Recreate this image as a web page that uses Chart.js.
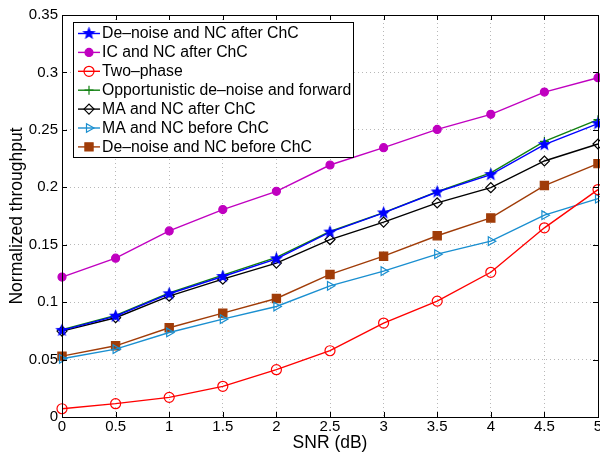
<!DOCTYPE html>
<html>
<head>
<meta charset="utf-8">
<script src="https://cdn.jsdelivr.net/npm/chart.js@4.4.0/dist/chart.umd.min.js"></script>
<style>
  html, body { margin: 0; padding: 0; background: #fff; }
  #wrap { width: 600px; height: 454px; }
</style>
</head>
<body>
<div id="wrap"><canvas id="chart" width="600" height="454"></canvas></div>
<script>
// SNR (dB) sur l'axe x
const snr = [0, 0.5, 1, 1.5, 2, 2.5, 3, 3.5, 4, 4.5, 5];
const xTicks = [0, 0.5, 1, 1.5, 2, 2.5, 3, 3.5, 4, 4.5, 5];
const yTicks = [0, 0.05, 0.1, 0.15, 0.2, 0.25, 0.3, 0.35];

const denoiseAfter  = [0.0754, 0.0878, 0.1073, 0.1223, 0.1377, 0.1610, 0.1777, 0.1959, 0.2110, 0.2371, 0.2554];
const icAfter       = [0.1218, 0.1383, 0.1620, 0.1806, 0.1965, 0.2194, 0.2345, 0.2504, 0.2635, 0.2829, 0.2954];
const twoPhase      = [0.0072, 0.0116, 0.0171, 0.0267, 0.0412, 0.0577, 0.0818, 0.1009, 0.1260, 0.1647, 0.1980];
const opportunistic = [0.0760, 0.0885, 0.1080, 0.1235, 0.1390, 0.1615, 0.1780, 0.1963, 0.2125, 0.2400, 0.2589];
const maAfter       = [0.0748, 0.0864, 0.1052, 0.1200, 0.1340, 0.1545, 0.1697, 0.1864, 0.1997, 0.2229, 0.2377];
const maBefore      = [0.0507, 0.0591, 0.0736, 0.0852, 0.0962, 0.1142, 0.1270, 0.1418, 0.1531, 0.1757, 0.1901];
const denoiseBefore = [0.0530, 0.0620, 0.0777, 0.0904, 0.1032, 0.1241, 0.1400, 0.1578, 0.1733, 0.2015, 0.2206];

const FONT = '"Liberation Sans", Arial, Helvetica, sans-serif';

// étoile pleine (pentagramme façon MATLAB)
function makeStar(color) {
  const c = document.createElement('canvas');
  c.width = 15; c.height = 15;
  const g = c.getContext('2d');
  g.fillStyle = color;
  g.beginPath();
  for (let i = 0; i < 10; i++) {
    const r = i % 2 === 0 ? 7 : 3;
    const a = -Math.PI / 2 + i * Math.PI / 5;
    const px = 7.5 + r * Math.cos(a), py = 7.5 + r * Math.sin(a);
    i === 0 ? g.moveTo(px, py) : g.lineTo(px, py);
  }
  g.closePath();
  g.fill();
  return c;
}

const pts = vals => vals.map((v, i) => ({ x: snr[i], y: v }));

const series = [
  { label: 'De–noise and NC after ChC', data: pts(denoiseAfter), borderColor: '#0000ff', pointBackgroundColor: '#0000ff', pointStyle: makeStar('#0000ff'), pointRadius: 6 },
  { label: 'IC and NC after ChC', data: pts(icAfter), borderColor: '#c000c0', pointBackgroundColor: '#c000c0', pointStyle: 'circle', pointRadius: 4 },
  { label: 'Two–phase', data: pts(twoPhase), borderColor: '#ff0000', pointBackgroundColor: 'rgba(0,0,0,0)', pointStyle: 'circle', pointRadius: 5 },
  { label: 'Opportunistic de–noise and forward', data: pts(opportunistic), borderColor: '#108010', pointBackgroundColor: '#108010', pointStyle: 'cross', pointRadius: 4.5 },
  { label: 'MA and NC after ChC', data: pts(maAfter), borderColor: '#000000', pointBackgroundColor: 'rgba(0,0,0,0)', pointStyle: 'rectRot', pointRadius: 5 },
  { label: 'MA and NC before ChC', data: pts(maBefore), borderColor: '#1a8fd0', pointBackgroundColor: 'rgba(0,0,0,0)', pointStyle: 'triangle', pointRotation: 90, pointRadius: 5 },
  { label: 'De–noise and NC before ChC', data: pts(denoiseBefore), borderColor: '#a03c08', pointBackgroundColor: '#a03c08', pointStyle: 'rect', pointRadius: 5.8 }
].map(s => Object.assign({
  borderWidth: 1.4,
  pointBorderColor: s.borderColor,
  pointBorderWidth: 1.2,
  pointHoverRadius: s.pointRadius,
  fill: false,
  tension: 0,
  clip: 8
}, s));

// ── Cadre + graduations intérieures ──
const frame = {
  id: 'frame',
  afterDatasetsDraw(chart) {
    const { ctx, chartArea: a, scales } = chart;
    ctx.save();
    ctx.strokeStyle = '#000';
    ctx.lineWidth = 1;
    ctx.beginPath();
    xTicks.forEach(v => {
      const x = Math.round(scales.x.getPixelForValue(v)) + 0.5;
      ctx.moveTo(x, a.bottom); ctx.lineTo(x, a.bottom - 5);
      ctx.moveTo(x, a.top); ctx.lineTo(x, a.top + 5);
    });
    yTicks.forEach(v => {
      const y = Math.round(scales.y.getPixelForValue(v)) + 0.5;
      ctx.moveTo(a.left, y); ctx.lineTo(a.left + 5, y);
      ctx.moveTo(a.right, y); ctx.lineTo(a.right - 5, y);
    });
    ctx.stroke();
    ctx.strokeRect(Math.round(a.left) + 0.5, Math.round(a.top) + 0.5, Math.round(a.right - a.left), Math.round(a.bottom - a.top));
    ctx.restore();
  }
};

// ── Légende dans la zone du graphique ──
const boxLegend = {
  id: 'boxLegend',
  afterDraw(chart) {
    const ctx = chart.ctx;
    const x0 = 73, y0 = 22, w = 280, h = 135;
    ctx.save();
    ctx.fillStyle = '#fff';
    ctx.fillRect(x0, y0, w, h);
    ctx.strokeStyle = '#000';
    ctx.lineWidth = 1;
    ctx.strokeRect(x0 + 0.5, y0 + 0.5, w, h);
    ctx.font = '15.8px ' + FONT;
    ctx.textBaseline = 'middle';
    chart.data.datasets.forEach((ds, i) => {
      const y = y0 + 11.5 + i * 18.9;
      ctx.strokeStyle = ds.borderColor;
      ctx.lineWidth = 1.4;
      ctx.beginPath(); ctx.moveTo(x0 + 5, y); ctx.lineTo(x0 + 27, y); ctx.stroke();
      ctx.fillStyle = ds.pointBackgroundColor;
      ctx.lineWidth = 1.2;
      Chart.helpers.drawPoint(ctx, { pointStyle: ds.pointStyle, radius: ds.pointRadius, rotation: ds.pointRotation || 0, borderWidth: 1.2 }, x0 + 16, y);
      ctx.fillStyle = '#000';
      ctx.fillText(ds.label, x0 + 29, y + 0.5);
    });
    ctx.restore();
  }
};

new Chart(document.getElementById('chart'), {
  type: 'line',
  data: { datasets: series },
  plugins: [frame, boxLegend],
  options: {
    responsive: false,
    animation: false,
    layout: { autoPadding: false, padding: { top: 15, right: 2, left: 0, bottom: 0 } },
    plugins: { legend: { display: false }, tooltip: { enabled: false } },
    scales: {
      x: {
        type: 'linear', min: 0, max: 5,
        afterBuildTicks: s => { s.ticks = xTicks.map(v => ({ value: v })); },
        afterFit: s => { s.height = 37; s.paddingLeft = 0; s.paddingRight = 0; },
        ticks: { color: '#000', font: { family: FONT, size: 15 }, padding: 1, maxRotation: 0, autoSkip: false, callback: v => String(v) },
        grid: { color: '#b8b8b8', lineWidth: 1, drawTicks: false },
        border: { display: false, dash: [1, 3] },
        title: { display: true, text: 'SNR (dB)', color: '#000', font: { family: FONT, size: 17.5 }, padding: { top: 0, bottom: 0 } }
      },
      y: {
        type: 'linear', min: 0, max: 0.35,
        afterBuildTicks: s => { s.ticks = yTicks.map(v => ({ value: v })); },
        afterFit: s => { s.width = 62; s.paddingTop = 0; s.paddingBottom = 0; },
        ticks: { color: '#000', font: { family: FONT, size: 15 }, padding: 4, autoSkip: false, callback: v => String(+v.toFixed(2)) },
        grid: { color: '#b8b8b8', lineWidth: 1, drawTicks: false },
        border: { display: false, dash: [1, 3] },
        title: { display: true, text: 'Normalized throughput', color: '#000', font: { family: FONT, size: 17.5 }, padding: { top: 7, bottom: 0 } }
      }
    }
  }
});
</script>
</body>
</html>
